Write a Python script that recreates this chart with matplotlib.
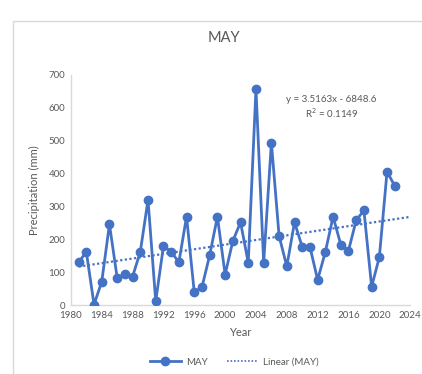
import matplotlib
matplotlib.use("Agg")
import matplotlib.pyplot as plt
from matplotlib.lines import Line2D
from matplotlib.patches import Rectangle
import numpy as np

plt.rcParams['font.family'] = ['Lato', 'DejaVu Sans']

# May precipitation per year (mm)
years = list(range(1981, 2023))
may_mm = [130, 162, 2, 71, 246, 83, 95, 87, 162, 320,
          12, 179, 163, 130, 269, 39, 55, 152, 269, 93,
          195, 252, 129, 657, 129, 494, 210, 118, 252, 177,
          177, 77, 162, 269, 184, 166, 258, 288, 56, 146,
          406, 362]

# linear trend as reported on the chart
slope = 3.5163
intercept = -6848.6
r_squared = 0.1149
trend_x = [1981, 2024]

x_ticks = list(range(1980, 2025, 4))
y_ticks = list(range(0, 701, 100))

blue = '#4472C4'
grey_text = '#595959'
grey_line = '#D9D9D9'

fig = plt.figure(figsize=(4.22, 3.74), dpi=100)
ax = fig.add_axes([0.168, 0.184, 0.804, 0.616])

# outer chart frame, cut off at right and bottom
fig.patches.append(Rectangle((13 / 422, -0.1), 1.2, 1 - 21 / 374 + 0.1,
                             transform=fig.transFigure, fill=False,
                             edgecolor=grey_line, linewidth=1.0))

ax.plot(years, may_mm, color=blue, linewidth=2, marker='o', markersize=6,
        zorder=3)
tx = np.array(trend_x)
ax.plot(tx, slope * tx + intercept, color=blue, linestyle=(0, (1, 1.1)),
        linewidth=1.6, zorder=2)

ax.set_xlim(1980, 2024)
ax.set_ylim(0, 700)
ax.set_xticks(x_ticks)
ax.set_yticks(y_ticks)
ax.tick_params(axis='both', length=0, labelsize=7, colors=grey_text, pad=4)

for side in ['top', 'right']:
    ax.spines[side].set_visible(False)
for side in ['left', 'bottom']:
    ax.spines[side].set_color(grey_line)
    ax.spines[side].set_linewidth(1.0)

ax.set_xlabel('Year', fontsize=8, color=grey_text, labelpad=5)
ax.set_ylabel('Precipitation (mm)', fontsize=8, color=grey_text, labelpad=6)
fig.text(0.53, 0.898, 'MAY', ha='center', va='center', fontsize=10.5,
         color=grey_text)

ax.text(2013.8, 625, f'y = {slope}x - {abs(intercept)}', ha='center',
        va='center', fontsize=7, color=grey_text)
ax.text(2013.8, 583, f'R$^2$ = {r_squared}', ha='center', va='center',
        fontsize=7, color=grey_text)

handles = [
    Line2D([], [], color=blue, linewidth=2, marker='o', markersize=6),
    Line2D([], [], color=blue, linestyle=(0, (1, 1.1)), linewidth=1.2),
]
fig.legend(handles, ['MAY', 'Linear (MAY)'], loc='center',
           bbox_to_anchor=(0.555, 0.032), ncol=2, frameon=False, fontsize=7,
           labelcolor=grey_text, handlelength=3.2, columnspacing=2.0,
           handletextpad=0.5)

fig.savefig('out.png', dpi=100)
